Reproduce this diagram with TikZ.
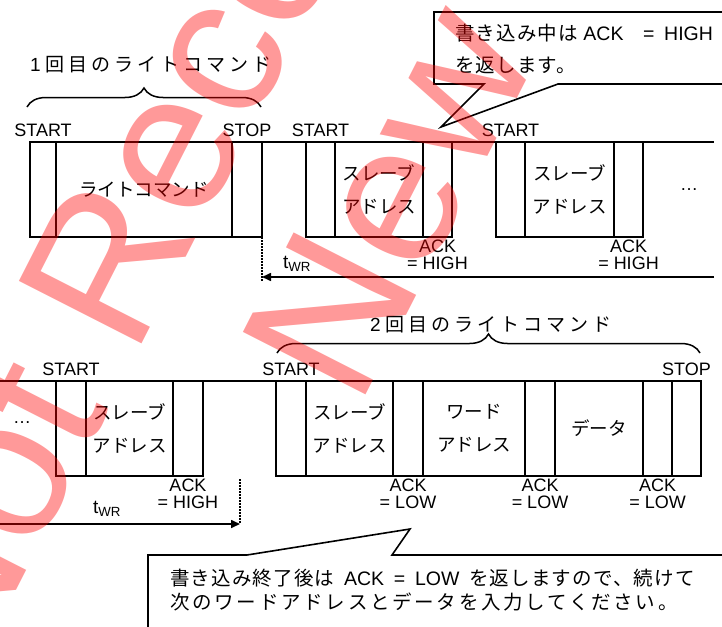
\documentclass[tikz,border=0pt]{standalone}
\usepackage{fontspec}
\setmainfont{Liberation Sans}
\newfontfamily\jp{Noto Sans CJK JP}
\newfontfamily\jphead[LetterSpace=21]{Noto Sans CJK JP}
\newfontfamily\jpnote[LetterSpace=6]{Noto Sans CJK JP}
\newfontfamily\jpnotewide[LetterSpace=14]{Noto Sans CJK JP}
\usetikzlibrary{arrows.meta, positioning, decorations.pathreplacing}
\definecolor{inkblack}{RGB}{0, 0, 0}
\definecolor{wmred}{RGB}{255, 0, 0}

\begin{document}
\begin{tikzpicture}[x=1pt, y=-1pt,
        cell/.style={draw=inkblack, line width=1.6pt, minimum height=95pt, inner sep=0pt, outer sep=0pt, align=center, font=\fontsize{18.5}{33}\selectfont\jp},
        sig/.style={inner sep=5pt, font=\fontsize{18}{17}\selectfont},
        ack/.style={inner sep=3pt, align=center, font=\fontsize{18}{17}\selectfont},
        bus/.style={line width=1.6pt, inkblack},
        twr/.style={line width=1.6pt, inkblack, -{Triangle[length=9pt, width=8pt]}},
        guide/.style={line width=1.2pt, dash pattern=on 1.5pt off 1.5pt},
        cmdbrace/.style={line width=1.5pt, decorate, decoration={brace, amplitude=19pt}},
        head/.style={inner sep=0pt, font=\fontsize{19}{19}\selectfont},
        note/.style={line width=1.6pt, inkblack},
        notetext/.style={align=left, inner sep=0pt, font=\fontsize{19.5}{32}\selectfont},
        notetextlow/.style={align=left, inner sep=0pt, font=\fontsize{19.5}{24}\selectfont},
        wmark/.style={anchor=base west, rotate=63, inner sep=0pt, text=wmred, text opacity=0.4, font=\fontsize{200}{200}\selectfont}
    ]
    \useasboundingbox (0,0) rectangle (722,626);
    \clip (0,0) rectangle (722,626);

    % first write command row
    \node[cell, minimum width=26pt, anchor=north west] (st1) at (30,142) {};
    \node[cell, minimum width=176pt, right=0pt of st1] (cmd) {ライトコマンド};
    \node[cell, minimum width=30pt, right=0pt of cmd] (sp1) {};
    \node[cell, minimum width=29pt, right=44pt of sp1] (st2) {};
    \node[cell, minimum width=88pt, right=0pt of st2] (sa2) {スレーブ\\アドレス};
    \node[cell, minimum width=29pt, right=0pt of sa2] (ak2) {};
    \node[cell, minimum width=29pt, right=44pt of ak2] (st3) {};
    \node[cell, minimum width=89pt, right=0pt of st3] (sa3) {スレーブ\\アドレス};
    \node[cell, minimum width=29pt, right=0pt of sa3] (ak3) {};
    \node[sig] (dots1) at (689,190) {…};

    \coordinate (bus1end) at (714,142);
    \draw[bus] (st1.north west) -- (bus1end);

    \node[sig, above=0pt of st1] (lst1) {START};
    \node[sig, above=0pt of sp1] (lsp1) {STOP};
    \node[sig, above=0pt of st2] (lst2) {START};
    \node[sig, above=0pt of st3] (lst3) {START};
    \node[ack, below=0pt of ak2] (lak2) {ACK\\= HIGH};
    \node[ack, below=0pt of ak3] (lak3) {ACK\\= HIGH};

    \draw[cmdbrace] (27,107) -- (261,107);
    \node[head] (head1) at (151,65) {1 {\jphead 回目のライトコマンド}};

    % write cycle time, first row
    \coordinate (tw1end) at (262,282);
    \coordinate (tw1from) at (714,277);
    \coordinate (tw1to) at (262,277);
    \draw[guide] (sp1.south east) -- (tw1end);
    \draw[twr] (tw1from) -- (tw1to);
    \node[sig, inner sep=0pt, font=\fontsize{19}{19}\selectfont] (ltw1) at (297,264) {t\textsubscript{WR}};

    % callout: ACK = HIGH while writing
    \coordinate (tipHigh) at (441,127);
    \draw[note] (730,84) -- (558,84) -- (tipHigh) -- (484,84) -- (434,84) -- (434,12) -- (730,12);
    \node[notetext, anchor=north west] (noteHigh) at (455,24) {{\jpnote 書き込み中は} ACK\quad=\enspace HIGH\\{\jpnote を返します。}};

    % second write command row
    \node[sig] (dots2) at (22,423) {…};
    \node[cell, minimum width=30pt, anchor=north west] (st4) at (56,381) {};
    \node[cell, minimum width=87pt, right=0pt of st4] (sa4) {スレーブ\\アドレス};
    \node[cell, minimum width=30pt, right=0pt of sa4] (ak4) {};
    \node[cell, minimum width=30pt, right=73pt of ak4] (st5) {};
    \node[cell, minimum width=87pt, right=0pt of st5] (sa5) {スレーブ\\アドレス};
    \node[cell, minimum width=30pt, right=0pt of sa5] (ak5) {};
    \node[cell, minimum width=102pt, right=0pt of ak5] (wa) {ワード\\アドレス};
    \node[cell, minimum width=30pt, right=0pt of wa] (ak6) {};
    \node[cell, minimum width=88pt, right=0pt of ak6] (dt) {データ};
    \node[cell, minimum width=29pt, right=0pt of dt] (ak7) {};
    \node[cell, minimum width=29pt, right=0pt of ak7] (sp2) {};

    \coordinate (bus2start) at (0,381);
    \draw[bus] (bus2start) -- (sp2.north east);

    \node[sig, above=0pt of st4] (lst4) {START};
    \node[sig, above=0pt of st5] (lst5) {START};
    \node[sig, above=0pt of sp2] (lsp2) {STOP};
    \node[ack, below=0pt of ak4] (lak4) {ACK\\= HIGH};
    \node[ack, below=0pt of ak5] (lak5) {ACK\\= LOW};
    \node[ack, below=0pt of ak6] (lak6) {ACK\\= LOW};
    \node[ack, below=0pt of ak7] (lak7) {ACK\\= LOW};

    \draw[cmdbrace] (277,353) -- (700,353);
    \node[head] (head2) at (491,325) {2 {\jphead 回目のライトコマンド}};

    % write cycle time, second row
    \coordinate (tw2top) at (240,479);
    \coordinate (tw2end) at (240,524);
    \coordinate (tw2from) at (0,524);
    \draw[guide] (tw2top) -- (tw2end);
    \draw[twr] (tw2from) -- (tw2end);
    \node[sig, inner sep=0pt, font=\fontsize{19}{19}\selectfont] (ltw2) at (107,509) {t\textsubscript{WR}};

    % callout: ACK = LOW after writing
    \coordinate (tipLow) at (410,529);
    \draw[note] (148,630) -- (148,555) -- (247,555) -- (tipLow) -- (392,555) -- (730,555);
    \node[notetextlow, anchor=north west] (noteLow) at (170,569) {{\jpnote 書き込み終了後は}\enspace ACK\enspace=\enspace LOW\enspace{\jpnote を返しますので、続けて}\\{\jpnotewide 次のワードアドレスとデータを入力してください。}};

    % watermark
    \node[wmark] (wm1) at (-32,685) {Not Recommended for};
    \node[wmark] (wm2) at (358,410) {New Design};
\end{tikzpicture}
\end{document}
